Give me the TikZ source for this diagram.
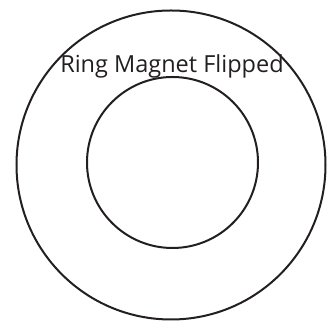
\documentclass[tikz,border=0pt]{standalone}
\usepackage{fontspec}
\setmainfont{Open Sans}
\usetikzlibrary{positioning}
\definecolor{ringink}{RGB}{35,31,32}
\tikzset{
  ringline/.style={circle, draw=ringink, line width=2pt, inner sep=0pt},
  ringlabel/.style={font=\fontsize{23.5}{28}\selectfont, text=ringink, inner sep=0pt, anchor=base},
}
\begin{document}
\begin{tikzpicture}[x=1pt, y=1pt]
  \useasboundingbox (0,0) rectangle (330,323);
  \node[ringline, minimum size=309pt] (outer) at (171,158) {};
  \node[ringline, minimum size=171pt] (inner) at (172.5,160.5) {};
  \node[ringlabel] (title) at (172,250) {Ring Magnet Flipped};
\end{tikzpicture}
\end{document}
